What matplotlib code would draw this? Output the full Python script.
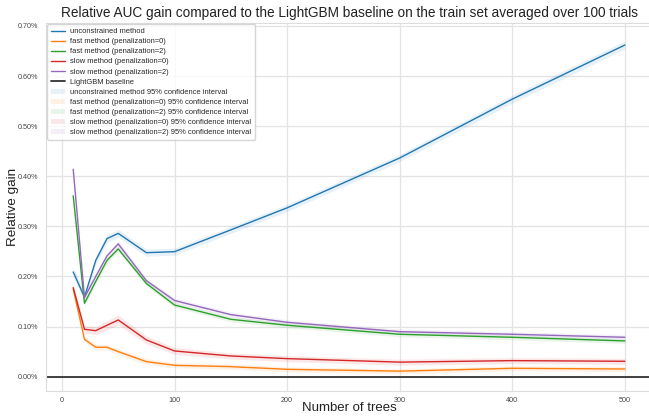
import numpy as np
import matplotlib
matplotlib.use("Agg")
import matplotlib.pyplot as plt
import seaborn as sns
from matplotlib.ticker import PercentFormatter

sns.set_style("whitegrid")
plt.rcParams["font.family"] = ["Liberation Sans", "DejaVu Sans"]

n_trees = [10, 20, 30, 40, 50, 75, 100, 150, 200, 300, 400, 500]

# relative gain in percent
unconstrained = [0.209, 0.159, 0.232, 0.2755, 0.286, 0.2475, 0.2495, 0.293, 0.337, 0.4365, 0.554, 0.662]
fast_pen0 = [0.175, 0.0746, 0.0587, 0.0587, 0.050, 0.030, 0.0227, 0.020, 0.0147, 0.011, 0.0167, 0.0153]
fast_pen2 = [0.361, 0.1465, 0.19, 0.232, 0.255, 0.186, 0.143, 0.1145, 0.1026, 0.0846, 0.0786, 0.0713]
slow_pen0 = [0.1777, 0.0946, 0.0918, 0.1026, 0.1132, 0.0733, 0.0513, 0.0413, 0.036, 0.029, 0.032, 0.0307]
slow_pen2 = [0.414, 0.158, 0.20, 0.241, 0.265, 0.1916, 0.152, 0.1238, 0.1085, 0.0898, 0.0846, 0.0786]

# half width of the 95% confidence interval, percent
ci_unconstrained = [0.010, 0.008, 0.008, 0.008, 0.008, 0.007, 0.007, 0.007, 0.007, 0.007, 0.008, 0.008]
ci_fast_pen0 = [0.006, 0.006, 0.006, 0.006, 0.006, 0.006, 0.005, 0.005, 0.005, 0.005, 0.005, 0.005]
ci_fast_pen2 = [0.006, 0.006, 0.006, 0.006, 0.006, 0.005, 0.005, 0.005, 0.005, 0.005, 0.005, 0.005]
ci_slow_pen0 = [0.007, 0.007, 0.008, 0.009, 0.010, 0.008, 0.007, 0.006, 0.006, 0.006, 0.006, 0.006]
ci_slow_pen2 = [0.006, 0.006, 0.006, 0.006, 0.006, 0.005, 0.005, 0.005, 0.005, 0.005, 0.005, 0.005]

names = ["unconstrained method", "fast method (penalization=0)", "fast method (penalization=2)",
         "slow method (penalization=0)", "slow method (penalization=2)"]
series = [unconstrained, fast_pen0, fast_pen2, slow_pen0, slow_pen2]
cis = [ci_unconstrained, ci_fast_pen0, ci_fast_pen2, ci_slow_pen0, ci_slow_pen2]
colors = ["tab:blue", "tab:orange", "tab:green", "tab:red", "tab:purple"]

fig = plt.figure(figsize=(6.49, 4.17), dpi=100)
ax = fig.add_axes([0.0703, 0.0631, 0.935, 0.8825])

x = np.array(n_trees)
for name, y, c, col in zip(names, series, cis, colors):
    ax.plot(x, np.array(y) / 100, color=col, linewidth=1.0, label=name)
ax.axhline(0, color="#333333", linewidth=1.3, label="LightGBM baseline")
for name, y, c, col in zip(names, series, cis, colors):
    y = np.array(y) / 100
    c = np.array(c) / 100
    ax.fill_between(x, y - c, y + c, color=col, alpha=0.1, linewidth=0,
                    label=name + " 95% confidence interval")

ax.set_xlim(-14.5, 524.5)
ax.set_ylim(-0.00028, 0.007066)
ax.set_xticks([0, 100, 200, 300, 400, 500])
ax.set_yticks(np.arange(0, 0.0071, 0.001))
ax.yaxis.set_major_formatter(PercentFormatter(1, decimals=2))
ax.tick_params(labelsize=5.2, pad=2, colors="#444444")
ax.tick_params(axis="x", pad=1)
ax.grid(color="#e3e3e3", linewidth=0.9)
for s in ax.spines.values():
    s.set_color("#dddddd")

ax.set_title("Relative AUC gain compared to the LightGBM baseline on the train set averaged over 100 trials",
             fontsize=9.8, color="#222222", pad=4)
ax.set_xlabel("Number of trees", fontsize=9.5, color="#222222")
ax.set_ylabel("Relative gain", fontsize=9.7, color="#222222")
ax.xaxis.set_label_coords(0.5, -0.031)
ax.yaxis.set_label_coords(-0.044, 0.5)
ax.legend(loc="upper left", fontsize=5.4, frameon=True, borderaxespad=0.2, handlelength=1.9,
          handletextpad=0.7, labelspacing=0.38, borderpad=0.5)

fig.savefig("out.png", dpi=100)
